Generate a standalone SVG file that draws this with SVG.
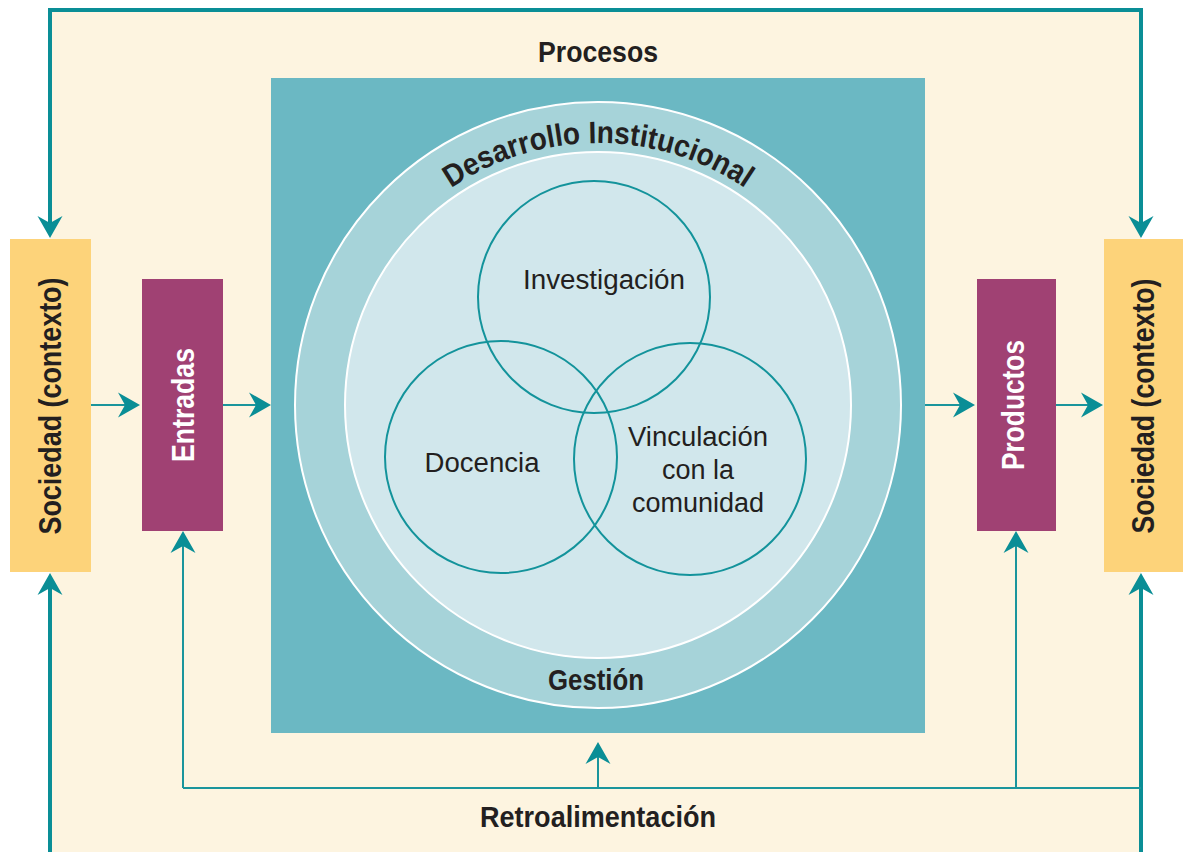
<svg xmlns="http://www.w3.org/2000/svg" width="1183" height="852" viewBox="0 0 1183 852">
  <style>
    .bold { font-family: "Liberation Sans", Arial, sans-serif; font-weight: bold; fill: #231f20; }
    .reg { font-family: "Liberation Sans", Arial, sans-serif; font-weight: normal; fill: #231f20; font-size: 27px; }
    .white { fill: #ffffff; }
    .thick { fill: none; stroke: #0a8e96; stroke-width: 4; }
    .thin { fill: none; stroke: #1a959c; stroke-width: 2; }
    .venn { fill: none; stroke: #13939b; stroke-width: 2; }
  </style>
  <defs>
    <marker id="arrow" markerUnits="userSpaceOnUse" viewBox="-8 -13 24 26" refX="0" refY="0" markerWidth="24" markerHeight="26" orient="auto-start-reverse">
      <path d="M15,0 L-7,-12.5 L0,0 L-7,12.5 Z" fill="#0a8e96"/>
    </marker>
    <path id="arcTop" d="M336,405 A262,262 0 0,1 860,405"/>
  </defs>

  <rect x="0" y="0" width="1183" height="852" fill="#ffffff"/>
  <rect id="fondo" x="50" y="10" width="1091" height="842" fill="#fdf4e0"/>

  <text class="bold" x="598" y="62" font-size="30" text-anchor="middle" textLength="120" lengthAdjust="spacingAndGlyphs">Procesos</text>
  <text class="bold" x="598" y="827" font-size="30" text-anchor="middle" textLength="236" lengthAdjust="spacingAndGlyphs">Retroalimentación</text>

  <g id="procesos">
    <rect x="271" y="78" width="654" height="655" fill="#6bb8c3"/>
    <circle cx="598" cy="405" r="303" fill="#a6d3d9" stroke="#ffffff" stroke-width="2"/>
    <circle cx="598" cy="405" r="253" fill="#d1e7ec" stroke="#ffffff" stroke-width="2"/>
    <text class="bold" font-size="31"><textPath href="#arcTop" startOffset="50%" text-anchor="middle" textLength="312" lengthAdjust="spacingAndGlyphs">Desarrollo Institucional</textPath></text>
    <text class="bold" x="596" y="690" font-size="30" text-anchor="middle" textLength="96" lengthAdjust="spacingAndGlyphs">Gestión</text>
  </g>

  <g id="investigacion">
    <circle class="venn" cx="594" cy="297" r="116"/>
    <text class="reg" x="604" y="289" text-anchor="middle" textLength="162" lengthAdjust="spacingAndGlyphs">Investigación</text>
  </g>
  <g id="docencia">
    <circle class="venn" cx="501" cy="457" r="116"/>
    <text class="reg" x="482" y="472" text-anchor="middle" textLength="115" lengthAdjust="spacingAndGlyphs">Docencia</text>
  </g>
  <g id="vinculacion">
    <circle class="venn" cx="690" cy="459" r="116"/>
    <text class="reg" x="698" y="446" text-anchor="middle" textLength="140" lengthAdjust="spacingAndGlyphs">Vinculación</text>
    <text class="reg" x="698" y="479" text-anchor="middle">con la</text>
    <text class="reg" x="698" y="512" text-anchor="middle">comunidad</text>
  </g>

  <g id="sociedad-izq">
    <rect x="10" y="239" width="81" height="333" fill="#fdd37a"/>
    <text class="bold" transform="translate(50,406) rotate(-90)" x="0" y="11" font-size="32" text-anchor="middle" textLength="257" lengthAdjust="spacingAndGlyphs">Sociedad (contexto)</text>
  </g>
  <g id="entradas">
    <rect x="142" y="279" width="81" height="252" fill="#a04173"/>
    <text class="bold white" transform="translate(182,405) rotate(-90)" x="0" y="12" font-size="32" text-anchor="middle" textLength="114" lengthAdjust="spacingAndGlyphs">Entradas</text>
  </g>
  <g id="productos">
    <rect x="977" y="279" width="79" height="252" fill="#a04173"/>
    <text class="bold white" transform="translate(1012,405) rotate(-90)" x="0" y="12" font-size="32" text-anchor="middle" textLength="130" lengthAdjust="spacingAndGlyphs">Productos</text>
  </g>
  <g id="sociedad-der">
    <rect x="1104" y="239" width="79" height="333" fill="#fdd37a"/>
    <text class="bold" transform="translate(1143,406) rotate(-90)" x="0" y="11" font-size="32" text-anchor="middle" textLength="255" lengthAdjust="spacingAndGlyphs">Sociedad (contexto)</text>
  </g>

  <g id="connectors">
    <path class="thick" d="M50,223 V10 H1141 V223" marker-start="url(#arrow)" marker-end="url(#arrow)"/>
    <path class="thick" d="M50,852 V588" marker-end="url(#arrow)"/>
    <path class="thick" d="M1141,852 V588" marker-end="url(#arrow)"/>
    <path class="thin" d="M183,788 H1141"/>
    <path class="thin" d="M183,788 V546" marker-end="url(#arrow)"/>
    <path class="thin" d="M1016,788 V546" marker-end="url(#arrow)"/>
    <path class="thin" d="M598,788 V757" marker-end="url(#arrow)"/>
    <path class="thin" d="M91,405 H125" marker-end="url(#arrow)"/>
    <path class="thin" d="M223,405 H256" marker-end="url(#arrow)"/>
    <path class="thin" d="M925,405 H960" marker-end="url(#arrow)"/>
    <path class="thin" d="M1056,405 H1088" marker-end="url(#arrow)"/>
  </g>
</svg>
